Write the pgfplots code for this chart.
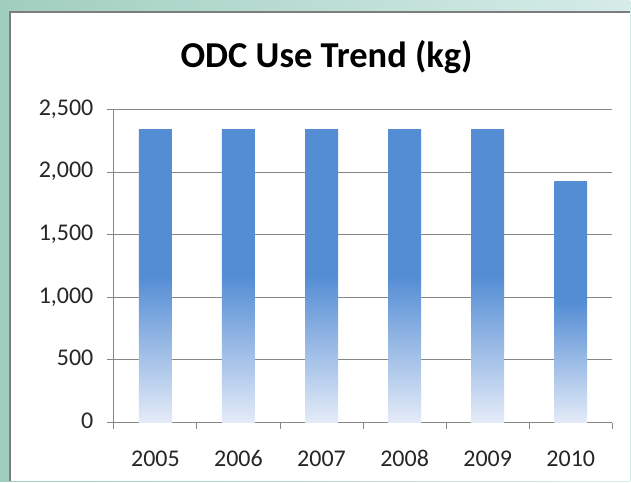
\documentclass[border=0pt]{standalone}
\usepackage{fontspec}
\setmainfont{Carlito}
\usepackage{pgfplots}
\pgfplotsset{compat=1.18}
\definecolor{barblue}{RGB}{84,141,212}
\definecolor{barlight}{RGB}{228,235,248}
\definecolor{gridgray}{RGB}{134,134,134}
\definecolor{bgleft}{RGB}{160,206,190}
\definecolor{bgright}{RGB}{214,236,233}
\definecolor{framegray}{RGB}{125,125,125}
\pgfdeclareverticalshading{barfade}{100bp}{color(0bp)=(barlight); color(25bp)=(barlight); color(50bp)=(barblue); color(75bp)=(barblue); color(100bp)=(barblue)}
\begin{document}
\begin{tikzpicture}
% slide background and white chart area (1pt = 1px of the reference)
\shade[left color=bgleft, right color=bgright] (0,0) rectangle (631pt,482pt);
\fill[white] (10pt,0pt) rectangle (631pt,470pt);
\draw[framegray, line width=1.5pt] (10pt,0pt) -- (10pt,470pt) -- (631pt,470pt);
\node[font=\fontsize{36.5}{42}\selectfont\bfseries, text=black] at (327pt,425pt) {ODC Use Trend (kg)};
\begin{axis}[
    at={(114pt,59pt)}, anchor=south west,
    scale only axis, width=499pt, height=313pt,
    xmin=-0.5, xmax=5.5, ymin=0, ymax=2500,
    xtick={-0.5,0.5,1.5,2.5,3.5,4.5,5.5},
    xticklabels={2005,2006,2007,2008,2009,2010},
    x tick label as interval,
    ytick={0,500,1000,1500,2000,2500},
    axis x line*=bottom, axis y line*=left,
    axis line style={gridgray, line width=1pt, -},
    ymajorgrids, grid style={gridgray, line width=1pt},
    tick align=outside, major tick length=7pt,
    tick style={gridgray, line width=1pt},
    ticklabel style={font=\fontsize{24}{28}\selectfont, text=black!85},
    typeset ticklabels with strut,
    /pgf/number format/assume math mode=true,
    /pgf/number format/1000 sep={,},
    scaled y ticks=false,
    xticklabel style={yshift=-14pt},
    yticklabel style={xshift=-10pt},
    clip=false,
]
\addplot[ybar, bar width=33pt, bar shift=0pt, draw=none, shading=barfade] coordinates {(0,2340)};
\addplot[ybar, bar width=33pt, bar shift=0pt, draw=none, shading=barfade] coordinates {(1,2340)};
\addplot[ybar, bar width=33pt, bar shift=0pt, draw=none, shading=barfade] coordinates {(2,2340)};
\addplot[ybar, bar width=33pt, bar shift=0pt, draw=none, shading=barfade] coordinates {(3,2340)};
\addplot[ybar, bar width=33pt, bar shift=0pt, draw=none, shading=barfade] coordinates {(4,2340)};
\addplot[ybar, bar width=33pt, bar shift=0pt, draw=none, shading=barfade] coordinates {(5,1925)};
\end{axis}
\end{tikzpicture}
\end{document}
